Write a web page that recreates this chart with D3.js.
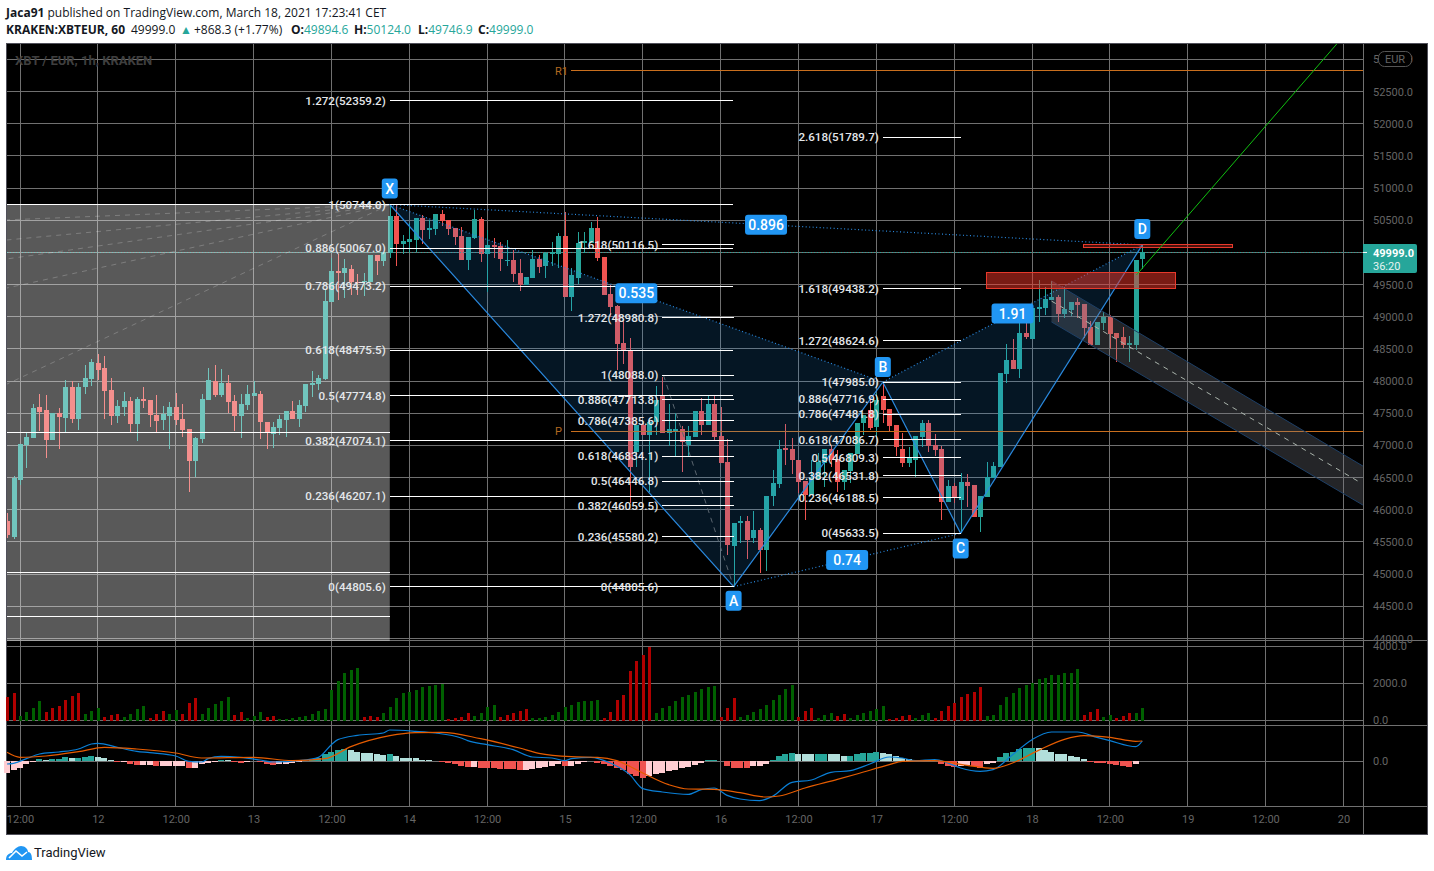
<!DOCTYPE html>
<html>
<head>
<meta charset="utf-8">
<script src="https://cdn.jsdelivr.net/npm/d3@7"></script>
<style>
  html, body { margin: 0; background: #fff; }
  svg { display: block; }
  text { font-family: Roboto, sans-serif; }
</style>
</head>
<body>
<script>
const w = 1434
const h = 871

// hourly candles [open, high, low, close], first one is 11 March 10:00
const ohlc = [
  [45829,45943,45560,45606],[45575,46524,45540,46487],[46461,47021,46384,47021],[47000,47187,46643,47130],
  [47120,47643,47120,47576],[47596,47798,47228,47524],[47550,47783,46809,47083],[47083,47498,47083,47498],
  [47498,47581,46948,47441],[47425,48011,47213,47907],[47907,47995,47353,47410],[47410,47964,47239,47907],
  [47907,48249,47804,48047],[48032,48343,47923,48296],[48286,48420,48016,48172],[48203,48389,47410,47850],
  [47861,48047,47317,47456],[47456,47705,47353,47612],[47596,47830,47456,47690],[47690,47752,47202,47332],
  [47332,47752,47068,47721],[47721,47907,47581,47690],[47705,47705,47285,47472],[47472,47783,47213,47379],
  [47394,47612,47239,47488],[47456,47674,46948,47596],[47596,47809,47317,47394],[47410,47643,47130,47239],
  [47254,47254,46275,46757],[46757,47130,46513,47114],[47099,47798,47037,47721],[47705,48203,47705,48016],
  [48001,48249,47752,47783],[47783,48187,47752,47970],[47970,48094,47498,47674],[47690,47783,47223,47456],
  [47456,47798,47114,47643],[47627,47938,47550,47798],[47767,47995,47767,47814],[47798,47845,47099,47363],
  [47363,47363,46948,47208],[47177,47363,46959,47285],[47270,47472,47161,47410],[47394,47534,47130,47534],
  [47534,47690,47410,47410],[47410,47705,47285,47627],[47612,47954,47519,47954],[47944,48156,47752,47970],
  [47954,48094,47861,48047],[48032,49416,48016,49245],[49229,49908,49229,49711],[49711,49975,49260,49680],
  [49680,49898,49291,49758],[49742,49804,49338,49540],[49540,49664,49338,49524],[49540,49675,49322,49556],
  [49540,49960,49540,49960],[49960,49960,49649,49867],[49867,50012,49789,50012],[49996,50722,49908,50566],
  [50567,50738,49789,50131],[50131,50271,49976,50178],[50162,50453,50007,50209],[50194,50536,50007,50536],
  [50536,50582,50131,50349],[50349,50505,50209,50380],[50365,50598,50271,50598],[50598,50660,50411,50489],
  [50505,50505,50271,50365],[50380,50380,50116,50240],[50256,50401,49883,49883],[49883,50240,49727,50240],
  [50225,50660,50209,50520],[50520,50556,49851,49976],[49976,50349,49390,50116],[50116,50225,49914,50085],
  [50100,50162,49712,49898],[49867,50194,49789,49883],[49883,50038,49540,49665],[49680,49898,49400,49494],
  [49494,49618,49494,49618],[49603,50038,49603,49898],[49898,49960,49680,49774],[49789,50007,49603,49991],
  [49976,50162,49789,50007],[49976,50302,49753,50256],[50256,50634,49307,49307],[49307,49753,49090,49649],
  [49603,50323,49509,50147],[50147,50323,49986,50178],[50147,50473,50147,50380],[50380,50551,49867,49914],
  [49929,49929,49338,49338],[49354,49494,49002,49152],[49167,49183,48172,48576],[48592,48965,48265,48483],
  [48468,48670,46099,46669],[46902,47317,46669,47317],[47317,47343,47162,47162],[47162,47395,46280,47369],
  [47369,47923,47162,47706],[47783,48069,47198,47198],[47193,47644,46990,47255],[47229,47498,46814,47260],
  [47255,47301,46591,47047],[47006,47301,46835,47146],[47130,47535,47130,47535],[47535,47737,47162,47317],
  [47317,47768,47317,47644],[47644,47768,47068,47130],[47146,47592,46726,46726],[46742,47099,45296,45451],
  [45435,45793,44803,45793],[45788,45902,45487,45819],[45819,45902,45233,45529],[45560,45985,45487,45684],
  [45684,45715,45016,45373],[45373,46213,45047,46213],[46213,46617,46057,46415],[46399,47084,46337,46944],
  [46959,47332,46695,46928],[46944,47115,46555,46773],[46773,46773,46254,46431],[46446,46446,45840,46228],
  [46228,46773,46228,46493],[46477,46876,46477,46742],[46721,46944,46358,46944],[46944,47006,46669,46773],
  [46788,46928,46280,46431],[46431,46617,46306,46617],[46602,46881,46410,46881],[46866,47348,46866,47348],
  [47348,47472,47161,47472],[47550,47706,47239,47270],[47286,47809,47110,47706],[47768,47965,47343,47550],
  [47566,47566,47208,47301],[47317,47317,46835,46975],[46944,47192,46664,46726],[46726,46975,46664,46819],
  [46773,47146,46508,47146],[47130,47395,46975,47348],[47348,47395,46897,46990],[47006,47177,46835,46928],
  [46944,46990,45840,46120],[46120,46462,46120,46368],[46368,46410,46099,46182],[46151,46565,45632,46431],
  [46431,46555,46047,46368],[46384,46384,45886,45886],[45886,46213,45653,46213],[46197,46741,46197,46508],
  [46493,46741,46493,46679],[46664,48125,46664,48125],[48110,48576,47970,48328],[48328,48654,48188,48188],
  [48188,48898,48048,48747],[48747,48950,48654,48685],[48654,49136,48654,49136],[49121,49572,48919,49152],
  [49136,49463,49027,49276],[49261,49556,49261,49307],[49307,49338,48919,49043],[49043,49468,48981,49121],
  [49105,49229,49012,49229],[49229,49292,48981,49183],[49198,49198,48670,48825],[48841,48934,48561,48561],
  [48561,48919,48561,48919],[48903,49074,48794,48996],[48996,49027,48499,48732],[48747,48747,48297,48670],
  [48685,48841,48514,48561],[48561,48701,48297,48592],[48561,49883,48483,49883],[49894.6,50124,49746.9,49999]
]

// volume bars, same candles
const volumes = [
  1260,1480,235,450,665,1045,450,665,775,1100,1315,1480,340,505,665,180,290,340,180,340,610,775,
  125,340,505,340,560,340,935,1205,340,665,880,1045,1260,290,450,125,235,450,180,235,55,90,145,180,
  250,340,505,610,1640,2160,2555,2735,2825,180,235,180,395,720,1205,1475,1530,1655,1800,1890,1925,1980,
  55,145,215,395,235,395,720,830,180,290,395,505,610,110,145,200,290,450,720,830,990,1045,1045,1100,
  110,450,1100,1370,2665,3205,3550,4000,395,665,775,1045,1260,1370,1530,1690,1800,1855,180,665,1205,
  180,290,450,610,830,1100,1370,1690,1910,180,505,665,125,290,395,235,340,125,290,395,505,610,775,
  90,125,235,290,125,290,395,125,505,775,935,1260,1420,1530,1800,235,290,830,1260,1475,1730,1945,2015,
  2230,2285,2450,2485,2555,2590,2770,290,450,610,180,290,125,235,395,395,665
]
// colour of each volume bar, r or g
const volumeSide = ('rr gggg rrrrrr ggg rrr gggg rrr gg rrr ggggg rr ggg rr ggggggggggggg rrr gggggggggg ' +
  'rrrr gggg rrrrr ggggggggggg rrrrrrrr gggggggggg rrr ggggggggg rrr ggg rr gggggg rrrr ggg rrrrrrrr ' +
  'ggggggggggggggg rrr gg rrr gg').replace(/ /g, '')

// MACD histogram, same candles
const macdHist = [
  -185,-140,-100,-45,-10,35,20,35,35,65,50,50,65,80,60,50,15,
  -15,-15,-50,-60,-60,-60,-70,-70,-70,-70,-70,-100,-100,
  -45,-25,-10,20,10,-15,-25,-15,-5,-20,-45,-55,-50,-40,-35,-15,5,10,40,100,140,170,180,160,135,120,115,100,90,100,
  70,50,40,38,20,10,5,-15,-30,-50,-70,-90,-88,-100,-102,-105,-120,-121,-122,-130,-128,-120,-110,-90,-70,-45,
  -70,-68,-40,-20,-5,-25,-45,-70,-110,-130,-200,-230,-250,-220,-190,-180,-150,-130,-110,-90,-60,-30,15,16,0,
  -80,-100,-101,-102,-80,-78,-40,15,70,110,125,110,100,98,110,112,110,100,75,80,100,120,125,140,125,110,80,40,
  25,15,10,8,5,-40,-70,-90,-70,-60,-80,-100,-50,-25,65,120,140,180,190,200,190,170,140,110,100,80,60,25,
  -20,-30,-35,-50,-55,-70,-95,-40,5
]

const macdAt = [-2,-1,1,3,6,9,11,12,15,18,20,24,26,28,29,31,34,37,39,43,46,48,49,52,56,57,61,64,68,69,72,76,79,82,84,85,88,91,94,96,99,103,105,107,109,111,114,116,119,122,125,128,131,134,136,138,141,143,145,148,150,153,156,159,163,166,168,172,173]
const macdLine = [-45,-35,35,105,135,180,255,265,205,145,125,75,-5,-15,35,70,55,15,-15,5,55,245,320,385,420,465,445,420,345,305,245,170,60,45,5,35,55,-30,-205,-415,-465,-500,-430,-405,-515,-570,-595,-530,-320,-285,-170,-145,-45,60,45,5,20,-30,-105,-155,-130,95,320,435,435,355,305,215,300]
const signalAt = [-2,0,4,9,13,18,24,28,36,42,47,51,57,61,65,71,77,80,85,89,92,96,100,103,107,111,115,117,121,126,129,134,136,141,146,150,153,157,161,164,168,172,173]
const signalLine = [130,55,75,140,205,180,120,45,55,5,35,215,380,425,430,335,195,115,65,55,5,-180,-355,-420,-425,-475,-540,-525,-405,-275,-195,-55,-5,5,-65,-110,-30,160,325,380,355,295,300]

// axis ticks
const priceTicks = d3.range(44000, 53001, 500)
const volumeTicks = [0, 2000, 4000]
const timeLabels = ['12:00','12','12:00','13','12:00','14','12:00','15','12:00','16','12:00','17','12:00','18','12:00','19','12:00','20']

// XABCD harmonic points, [candle, price]
const pattern = { X: [57, 50744], A: [110, 44805.6], B: [133, 47985], C: [145, 45633.5], D: [173, 50116.5] }
const ratios = [['X', 'B', '0.535'], ['X', 'D', '0.896'], ['A', 'C', '0.74'], ['B', 'D', '1.91']]

// fib levels [ratio, price]
const fibXA = [[1.272,52359.2],[1,50744.0],[0.886,50067.0],[0.786,49473.2],[0.618,48475.5],[0.5,47774.8],[0.382,47074.1],[0.236,46207.1],[0,44805.6]]
const fibAB = [[1.618,50116.5],[1.272,48980.8],[1,48088.0],[0.886,47713.8],[0.786,47385.6],[0.618,46834.1],[0.5,46446.8],[0.382,46059.5],[0.236,45580.2],[0,44805.6]]
const fibBC = [[2.618,51789.7],[1.618,49438.2],[1.272,48624.6],[1,47985.0],[0.886,47716.9],[0.786,47481.8],[0.618,47086.7],[0.5,46809.3],[0.382,46531.8],[0.236,46188.5],[0,45633.5]]

const pivotR1 = 52822
const pivotP = 47224
const leftLevels = [50744, 47208, 45023, 44347]
const fanPrices = [50505, 50193, 49898, 49447, 47954]
const lastPrice = 49999

const firstIndex = -2

const x = d3.scaleLinear().domain([0, 173]).range([20, 1142.3])
const y = d3.scaleLinear().domain([44000, 52500]).range([638.5, 91.5])
const yVol = d3.scaleLinear().domain([0, 4000]).range([720.5, 646.5])
const yMacd = d3.scaleLinear().domain([-675, 525]).range([806, 726])

const up = '#26a69a'
const down = '#ef5350'
const gridColor = '#707070'
const axisText = '#656565'

// create svg
const svg = d3.select('body').append('svg').attr('width', w).attr('height', h)

// header
const headerFont = '"Open Sans", sans-serif'
const header = svg.append('text').attr('x', 6).attr('y', 17).attr('font-size', 12).attr('fill', '#131722')
  .style('font-family', headerFont)
header.append('tspan').attr('font-weight', 700).text('Jaca91')
header.append('tspan').text(' published on TradingView.com, March 18, 2021 17:23:41 CET')

const quote = svg.append('text').attr('y', 34).attr('font-size', 12).attr('fill', '#131722')
  .style('font-family', headerFont)
quote.append('tspan').attr('x', 6).attr('font-weight', 700).text('KRAKEN:XBTEUR, 60')
quote.append('tspan').attr('x', 131).text('49999.0')
quote.append('tspan').attr('x', 180).attr('fill', up).text('▲')
quote.append('tspan').attr('x', 194).text('+868.3 (+1.77%)')
;[[291, 'O:', '49894.6'], [354, 'H:', '50124.0'], [418, 'L:', '49746.9'], [478, 'C:', '49999.0']].forEach(d => {
  quote.append('tspan').attr('x', d[0]).attr('font-weight', 700).text(d[1])
  quote.append('tspan').attr('fill', up).text(d[2])
})

// chart background
svg.append('rect').attr('x', 6.5).attr('y', 43.5).attr('width', 1421).attr('height', 791)
  .attr('fill', '#000').attr('stroke', '#50505a')

// grid
const grid = svg.append('g').attr('stroke', gridColor).attr('shape-rendering', 'crispEdges')
timeLabels.forEach((d, i) => {
  grid.append('line').attr('x1', x(i * 12)).attr('x2', x(i * 12)).attr('y1', 44).attr('y2', 806)
})
priceTicks.forEach(d => {
  grid.append('line').attr('x1', 7).attr('x2', 1363).attr('y1', y(d)).attr('y2', y(d))
})
volumeTicks.forEach(d => {
  grid.append('line').attr('x1', 7).attr('x2', 1363).attr('y1', yVol(d)).attr('y2', yVol(d))
})
grid.append('line').attr('x1', 7).attr('x2', 1363).attr('y1', yMacd(0)).attr('y2', yMacd(0))
// pane separators
;[640, 725, 806.5].forEach(d => {
  grid.append('line').attr('x1', 7).attr('x2', 1427).attr('y1', d).attr('y2', d)
})
grid.append('line').attr('x1', 1363).attr('x2', 1363).attr('y1', 44).attr('y2', 834)

// watermark
svg.append('text').attr('x', 15).attr('y', 65).attr('font-size', 13).attr('font-weight', 700)
  .attr('fill', '#3f3f3f').text('XBT / EUR, 1h, KRAKEN')

// clip for the main pane
svg.append('clipPath').attr('id', 'main').append('rect')
  .attr('x', 7).attr('y', 44).attr('width', 1356).attr('height', 597)

const main = svg.append('g').attr('clip-path', 'url(#main)')

// candles
const candles = main.selectAll('g.candle')
  .data(ohlc)
  .enter()
  .append('g')
  .attr('class', 'candle')
  .attr('shape-rendering', 'crispEdges')
  .attr('fill', d => d[3] >= d[0] ? up : down)
  .attr('stroke', d => d[3] >= d[0] ? up : down)

candles.append('line')
  .attr('x1', (d, i) => Math.round(x(i + firstIndex)))
  .attr('x2', (d, i) => Math.round(x(i + firstIndex)))
  .attr('y1', d => y(d[1]))
  .attr('y2', d => y(d[2]))

candles.append('rect')
  .attr('x', (d, i) => Math.round(x(i + firstIndex)) - 2.5)
  .attr('width', 5)
  .attr('y', d => y(Math.max(d[0], d[3])))
  .attr('height', d => Math.max(1, Math.abs(y(d[0]) - y(d[3]))))
  .attr('stroke', 'none')

// pivots
const pivots = main.append('g').attr('fill', '#b36a20').attr('font-size', 11)
;[[pivotR1, 'R1'], [pivotP, 'P']].forEach(d => {
  pivots.append('line').attr('x1', x(85)).attr('x2', 1363).attr('y1', y(d[0])).attr('y2', y(d[0]))
    .attr('stroke', '#c96f1e').attr('shape-rendering', 'crispEdges')
  pivots.append('text').attr('x', 555).attr('y', y(d[0]) + 4).text(d[1])
})

// last price line
main.append('line').attr('x1', 7).attr('x2', 1363).attr('y1', y(lastPrice)).attr('y2', y(lastPrice))
  .attr('stroke', up).attr('stroke-dasharray', '1 2').attr('shape-rendering', 'crispEdges')

// grey box on the left with the fan
main.append('rect').attr('x', 7).attr('width', x(57) - 7)
  .attr('y', y(50744)).attr('height', 641 - y(50744))
  .attr('fill', 'rgba(255,255,255,0.35)')

leftLevels.forEach(d => {
  main.append('line').attr('x1', 7).attr('x2', x(57)).attr('y1', y(d)).attr('y2', y(d))
    .attr('stroke', '#fff').attr('shape-rendering', 'crispEdges')
})

fanPrices.forEach(d => {
  main.append('line').attr('x1', x(57)).attr('y1', y(50744)).attr('x2', 7).attr('y2', y(d))
    .attr('stroke', 'rgba(255,255,255,0.22)').attr('stroke-dasharray', '5 5')
})

// harmonic pattern
const pt = k => [x(pattern[k][0]), y(pattern[k][1])]
const triangle = d3.line()
;[['X', 'A', 'B'], ['B', 'C', 'D']].forEach(t => {
  main.append('path').attr('d', triangle(t.map(pt)) + 'Z').attr('fill', 'rgba(33,150,243,0.15)')
})
;[['X', 'A'], ['A', 'B'], ['B', 'C'], ['C', 'D']].forEach(s => {
  main.append('path').attr('d', triangle(s.map(pt))).attr('stroke', '#2a8ae0').attr('stroke-width', 1.2).attr('fill', 'none')
})
;[['X', 'B'], ['B', 'D'], ['X', 'D'], ['A', 'C']].forEach(s => {
  main.append('path').attr('d', triangle(s.map(pt))).attr('stroke', '#2a8ae0').attr('stroke-width', 1.2).attr('fill', 'none')
    .attr('stroke-dasharray', '1 2.5')
})

// dashed line going down to A
main.append('line').attr('x1', x(99.2)).attr('y1', y(48088)).attr('x2', x(110)).attr('y2', y(44805.6))
  .attr('stroke', '#5b6670').attr('stroke-dasharray', '5 5')

// down channel
const channelTop = [[159, 49556], [207, 46680]]
const channelBottom = [[159, 48919], [207, 46074]]
const channelMid = [[159, 49244], [206.5, 46430]]
const priceLine = d3.line().x(d => x(d[0])).y(d => y(d[1]))
main.append('path').attr('d', priceLine(channelTop.concat(channelBottom.slice().reverse())) + 'Z')
  .attr('fill', 'rgba(120,123,134,0.3)')
;[channelTop, channelBottom].forEach(d => {
  main.append('path').attr('d', priceLine(d)).attr('stroke', '#1d3f66').attr('fill', 'none')
})
main.append('path').attr('d', priceLine(channelMid)).attr('stroke', '#a9b3ab').attr('fill', 'none')
  .attr('stroke-dasharray', '5 5')

// red boxes
const boxes = [[149, 178.1, 49681, 49432, 0.5], [163.9, 186.9, 50116, 50069, 0.3]]
boxes.forEach(d => {
  main.append('rect').attr('x', x(d[0])).attr('width', x(d[1]) - x(d[0]))
    .attr('y', y(d[2])).attr('height', y(d[3]) - y(d[2]))
    .attr('fill', `rgba(242,54,40,${d[4]})`).attr('stroke', '#e8392b').attr('shape-rendering', 'crispEdges')
})

// green arrow line
main.append('path').attr('d', priceLine([[172.1, 49649], [203, 53241]])).attr('stroke', '#10c010').attr('fill', 'none')

// fib labels and lines
const drawFib = (levels, from, to) => {
  levels.forEach(d => {
    main.append('line').attr('x1', x(from)).attr('x2', x(to)).attr('y1', y(d[1])).attr('y2', y(d[1]))
      .attr('stroke', '#fff').attr('shape-rendering', 'crispEdges')
    main.append('text').attr('x', x(from) - 4).attr('y', y(d[1]) + 4).attr('text-anchor', 'end')
      .attr('font-size', 11.6).attr('font-weight', 500).attr('fill', '#e4e7ea')
      .text(`${d[0]}(${d[1].toFixed(1)})`)
  })
}
drawFib(fibXA, 57, 109.9)
drawFib(fibAB, 99, 110)
drawFib(fibBC, 133, 145)

// blue tags
const tag = (cx, cy, txt, tw, th, size) => {
  main.append('rect').attr('x', cx - tw / 2).attr('y', cy - th / 2).attr('width', tw).attr('height', th)
    .attr('rx', 3).attr('fill', '#2196f3')
  main.append('text').attr('x', cx).attr('y', cy + size * 0.36).attr('text-anchor', 'middle')
    .attr('font-size', size).attr('font-weight', 500).attr('fill', '#fff').text(txt)
}
ratios.forEach(d => {
  const a = pt(d[0])
  const b = pt(d[1])
  tag((a[0] + b[0]) / 2, (a[1] + b[1]) / 2, d[2], 42, 20, 14)
})
const tagOffset = { X: -16, A: 14, B: -15, C: 15, D: -16 }
Object.keys(pattern).forEach(k => {
  const p = pt(k)
  tag(p[0], p[1] + tagOffset[k], k, 16, 20, 14)
})

// volume
svg.append('g').attr('shape-rendering', 'crispEdges').selectAll('rect')
  .data(volumes)
  .enter()
  .append('rect')
  .attr('x', (d, i) => Math.round(x(i + firstIndex)) - 1.5)
  .attr('width', 3)
  .attr('y', d => yVol(d))
  .attr('height', d => yVol(0) - yVol(d))
  .attr('fill', (d, i) => volumeSide[i] === 'r' ? '#b00000' : '#006000')

// macd histogram
svg.append('g').attr('shape-rendering', 'crispEdges').selectAll('rect')
  .data(macdHist)
  .enter()
  .append('rect')
  .attr('x', (d, i) => x(i + firstIndex) - 3)
  .attr('width', 6)
  .attr('y', d => Math.min(yMacd(d), yMacd(0)))
  .attr('height', d => Math.abs(yMacd(d) - yMacd(0)))
  .attr('fill', (d, i) => {
    const prev = i > 0 ? macdHist[i - 1] : d
    if (d >= 0) return d >= prev ? '#26a69a' : '#b2dfdb'
    return d < prev ? '#ef5350' : '#ffcdd2'
  })

const macdPath = d3.line().x(d => x(d[0])).y(d => yMacd(d[1])).curve(d3.curveMonotoneX)
svg.append('path').attr('d', macdPath(macdAt.map((d, i) => [d, macdLine[i]])))
  .attr('fill', 'none').attr('stroke', '#0a7fd6').attr('stroke-width', 1.2)
svg.append('path').attr('d', macdPath(signalAt.map((d, i) => [d, signalLine[i]])))
  .attr('fill', 'none').attr('stroke', '#e65c00').attr('stroke-width', 1.2)

// axes
const styleAxis = g => {
  g.select('.domain').remove()
  g.selectAll('line').remove()
  g.selectAll('text').attr('fill', axisText).attr('font-size', 11).attr('font-family', 'Roboto, sans-serif')
}
svg.append('g').attr('transform', 'translate(1363,0)')
  .call(d3.axisRight(y).tickValues(priceTicks).tickFormat(d3.format('.1f')).tickSize(0).tickPadding(10))
  .call(styleAxis)
svg.append('g').attr('transform', 'translate(1363,-1)')
  .call(d3.axisRight(yVol).tickValues(volumeTicks).tickFormat(d3.format('.1f')).tickSize(0).tickPadding(10))
  .call(styleAxis)
svg.append('g').attr('transform', 'translate(1363,0)')
  .call(d3.axisRight(yMacd).tickValues([0]).tickFormat(d3.format('.1f')).tickSize(0).tickPadding(10))
  .call(styleAxis)
svg.append('g').attr('transform', 'translate(0,807)')
  .call(d3.axisBottom(x).tickValues(timeLabels.map((d, i) => i * 12)).tickFormat((d, i) => timeLabels[i]).tickSize(0).tickPadding(8))
  .call(styleAxis)

// currency badge
svg.append('rect').attr('x', 1378.5).attr('y', 51.5).attr('width', 33).attr('height', 15).attr('rx', 6)
  .attr('fill', '#000').attr('stroke', '#555')
svg.append('text').attr('x', 1395).attr('y', 63).attr('text-anchor', 'middle')
  .attr('font-size', 11).attr('fill', axisText).text('EUR')

// last price tag
svg.append('path').attr('d', 'M1363 244H1415a2 2 0 0 1 2 2V271a2 2 0 0 1 -2 2H1363Z').attr('fill', up)
svg.append('line').attr('x1', 1363).attr('x2', 1367).attr('y1', y(lastPrice)).attr('y2', y(lastPrice)).attr('stroke', '#fff')
svg.append('text').attr('x', 1373).attr('y', 257).attr('font-size', 11).attr('font-weight', 700)
  .attr('fill', '#fff').text('49999.0')
svg.append('text').attr('x', 1373).attr('y', 270).attr('font-size', 11).attr('fill', '#e4f4f2').text('36:20')

// logo
svg.append('path')
  .attr('d', 'M6 860C6 855 9 853 12 853C14 849 18 846 21 846C25 846 28 849 28 852C31 852 32 855 32 860Z')
  .attr('fill', '#2196f3')
svg.append('path').attr('d', 'M9 858L16 851L22 856L27 852').attr('fill', 'none').attr('stroke', '#fff').attr('stroke-width', 1.6)
svg.append('text').attr('x', 34).attr('y', 857).attr('font-size', 13).attr('fill', '#131722').text('TradingView')
</script>
</body>
</html>
